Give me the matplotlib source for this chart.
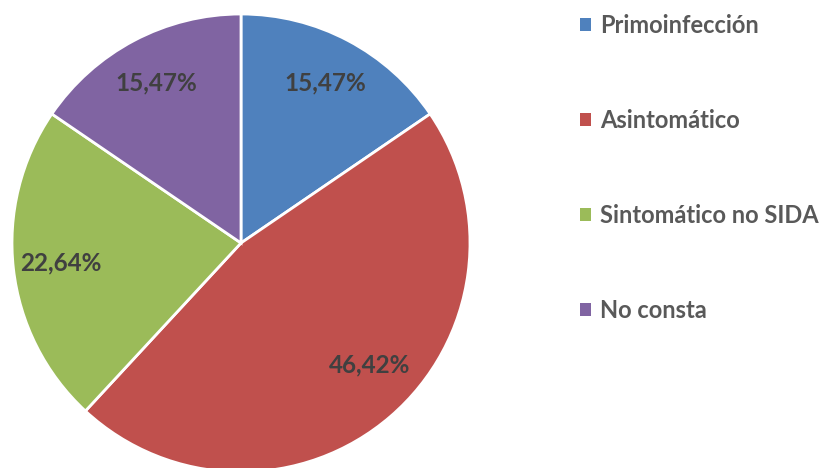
import numpy as np
import matplotlib.pyplot as plt
from matplotlib.patches import Patch

# datos
categorias = ['Primoinfección', 'Asintomático', 'Sintomático no SIDA', 'No consta']
porcentajes = [15.47, 46.42, 22.64, 15.47]
colores = ['#4F81BD', '#C0504D', '#9BBB59', '#8064A2']

plt.rcParams['font.family'] = ['Lato', 'DejaVu Sans']

W, H = 827, 468
fig = plt.figure(figsize=(W / 100, H / 100), dpi=100)

# pie en pixeles: centro (241, 243), radio 229
cx, cy, r = 241, 243, 229
ax = fig.add_axes([(cx - r) / W, (H - cy - r) / H, 2 * r / W, 2 * r / H])
wedges, texts, autotexts = ax.pie(
    porcentajes,
    colors=colores,
    startangle=90,
    counterclock=False,
    autopct=lambda p: f'{p:.2f}%'.replace('.', ','),
    pctdistance=0.79,
    wedgeprops={'edgecolor': 'white', 'linewidth': 2},
    textprops={'fontsize': 17.5, 'fontweight': 'bold', 'color': '#404040'},
)
# etiqueta del sector grande un poco desplazada (ajuste tipo Excel)
ang = np.deg2rad(-43.6)
autotexts[1].set_position((0.775 * np.cos(ang), 0.775 * np.sin(ang)))
ax.set_xlim(-1, 1)
ax.set_ylim(-1, 1)
ax.set_aspect('auto')
ax.axis('off')

handles = [Patch(facecolor=c, edgecolor='none') for c in colores]
leg = fig.legend(
    handles, categorias,
    loc='upper left',
    bbox_to_anchor=(580 / W, 1 - 14 / H),
    frameon=False,
    borderpad=0, borderaxespad=0,
    handlelength=0.48, handleheight=0.48,
    handletextpad=0.38,
    labelspacing=3.05,
    prop={'size': 17, 'weight': 'bold'},
)
for t in leg.get_texts():
    t.set_color('#595959')

fig.savefig('out.png', dpi=100)
